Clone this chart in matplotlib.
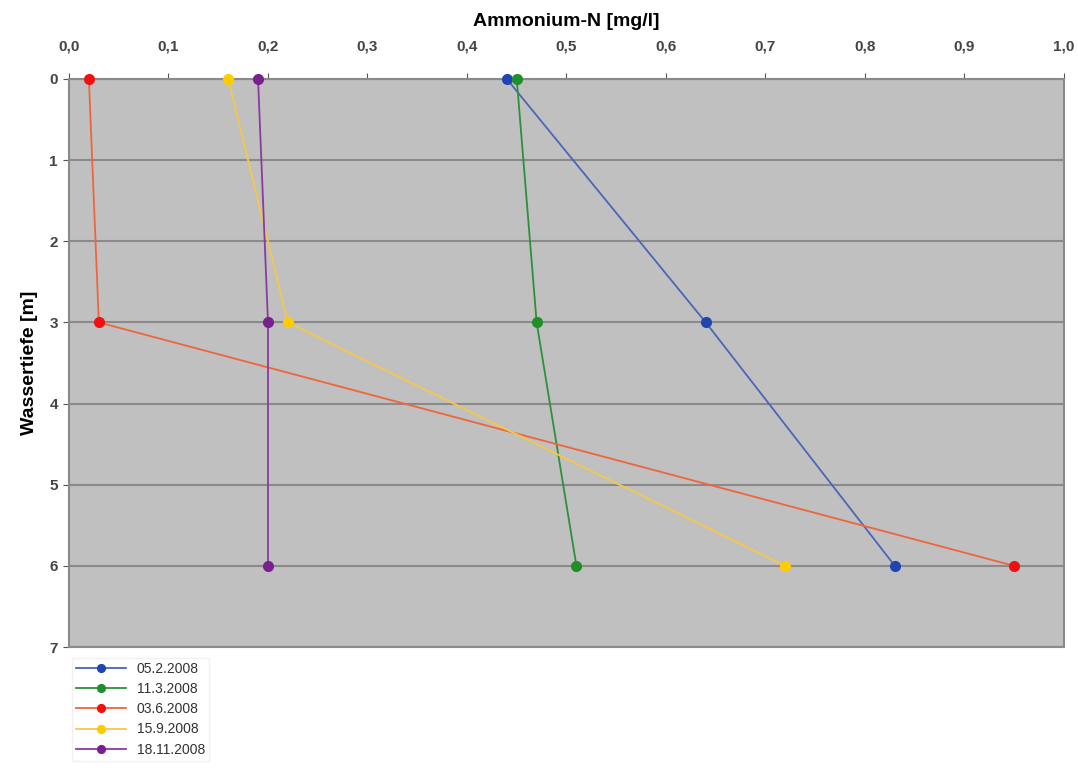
import matplotlib
matplotlib.use("Agg")
import matplotlib.pyplot as plt
from matplotlib.ticker import FuncFormatter

# depths in m
depth = [0, 3, 6]

# Ammonium-N in mg/l per sampling date
labels = ["05.2.2008", "11.3.2008", "03.6.2008", "15.9.2008", "18.11.2008"]
nh4_feb = [0.44, 0.64, 0.83]
nh4_mar = [0.45, 0.47, 0.51]
nh4_jun = [0.02, 0.03, 0.95]
nh4_sep = [0.16, 0.22, 0.72]
nh4_nov = [0.19, 0.20, 0.20]

series = [nh4_feb, nh4_mar, nh4_jun, nh4_sep, nh4_nov]
line_cols = ["#4a66b8", "#2f8f3a", "#f0643c", "#f5c84a", "#8a3c9c"]
mark_cols = ["#1f45b0", "#1f8f2a", "#f01010", "#ffcc00", "#7a1f8f"]

plt.rcParams['font.family'] = ['Liberation Sans', 'DejaVu Sans']

fig = plt.figure(figsize=(10.78, 7.82), dpi=100)
ax = fig.add_axes([0.064, 0.1726, 0.923, 0.7264])
ax.set_facecolor("#c0c0c0")

for vals, lab, lc, mc in zip(series, labels, line_cols, mark_cols):
    ax.plot(vals, depth, '-', color=lc, lw=1.3, marker='o', ms=7,
            mfc=mc, mec=mc, label=lab, clip_on=False, zorder=3)

ax.set_xlim(0, 1.0)
ax.set_ylim(7, 0)
ax.set_xticks([i / 10 for i in range(11)])
ax.set_yticks(range(8))
ax.xaxis.set_major_formatter(FuncFormatter(lambda v, p: ("%.1f" % v).replace(".", ",")))
ax.xaxis.tick_top()
ax.xaxis.set_label_position("top")
ax.tick_params(axis='both', colors="#555555", labelcolor="#444444", labelsize=11, length=4)
ax.tick_params(axis='x', pad=14)
ax.tick_params(axis='y', pad=4)
for t in ax.get_xticklabels() + ax.get_yticklabels():
    t.set_fontweight('bold')

ax.grid(True, axis='y', color="#8a8a8a", lw=1.5)
for s in ax.spines.values():
    s.set_color("#8a8a8a")
    s.set_linewidth(1.5)

ax.set_xlabel("Ammonium-N [mg/l]", fontsize=14, fontweight='bold', labelpad=10)
ax.set_ylabel("Wassertiefe [m]", fontsize=14, fontweight='bold', labelpad=8)

leg = fig.legend(loc='upper left', bbox_to_anchor=(0.06, 0.168), fontsize=10,
                 frameon=True, fancybox=False, edgecolor="#eeeeee",
                 handlelength=3.6, labelspacing=0.45, borderpad=0.3, markerscale=0.8)
for t in leg.get_texts():
    t.set_color("#333333")

fig.savefig("out.png", dpi=100, facecolor="white")
